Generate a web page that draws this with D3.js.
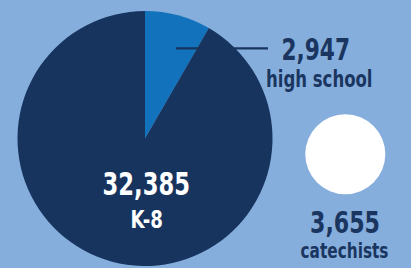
<!DOCTYPE html>
<html><head><meta charset="utf-8">
<script src="https://cdn.jsdelivr.net/npm/d3@7"></script>
<style>
html,body{margin:0;padding:0;background:#86aedc;}
svg{display:block;}
text{font-family:"DejaVu Sans",sans-serif;font-weight:bold;font-stretch:condensed;}
</style></head>
<body>
<svg id="chart" width="411" height="268"></svg>
<script>
const categories = ["high school", "K-8"];
const values = [2947, 32385];
const valueLabels = ["2,947", "32,385"];
const extraCategory = "catechists";
const extraValue = 3655;
const extraLabel = "3,655";

const W = 411, H = 268;
const cx = 145, cy = 138.5, R = 127.5;
const navy = "#17345f", mid = "#1272bb", textNavy = "#1a3660";

const svg = d3.select("#chart");
svg.append("rect").attr("width", W).attr("height", H).attr("fill", "#86aedc");

const pie = d3.pie().sort(null).value(d => d.v);
const arcs = pie(categories.map((c, i) => ({c, v: values[i], l: valueLabels[i]})));
const arc = d3.arc().innerRadius(0).outerRadius(R);
const color = d3.scaleOrdinal().domain(categories).range([mid, navy]);

const g = svg.append("g").attr("transform", `translate(${cx},${cy})`);
g.selectAll("path").data(arcs).join("path")
  .attr("d", arc).attr("fill", d => color(d.data.c));

function label(x, y, size, len, fill, txt, anchor) {
  return svg.append("text").attr("x", x).attr("y", y).attr("font-size", size)
    .attr("fill", fill).attr("text-anchor", anchor || "start")
    .attr("textLength", len).attr("lengthAdjust", "spacingAndGlyphs").text(txt);
}

// leader line for high school
const hs = arcs[0];
svg.append("line")
  .attr("x1", 176).attr("y1", 48.3)
  .attr("x2", 268).attr("y2", 48.3)
  .attr("stroke", navy).attr("stroke-width", 2.2);
label(281.5, 60, 30, 68.5, textNavy, hs.data.l);
label(266, 87, 23.5, 106.5, textNavy, hs.data.c);

// K-8 label
const k8 = arcs[1];
label(102.5, 195, 32, 87.5, "#fff", k8.data.l);
label(130.5, 227.5, 25, 32.5, "#fff", k8.data.c);

// catechists circle
const total = d3.sum(values);
const rScale = d3.scaleSqrt().domain([0, total]).range([0, R]);
svg.append("circle").attr("cx", 345.3).attr("cy", 154.3)
  .attr("r", rScale(extraValue) - 1).attr("fill", "#fff");
label(310, 233, 30, 70, textNavy, extraLabel);
label(300.5, 258, 22, 88, textNavy, extraCategory);
</script>
</body></html>
